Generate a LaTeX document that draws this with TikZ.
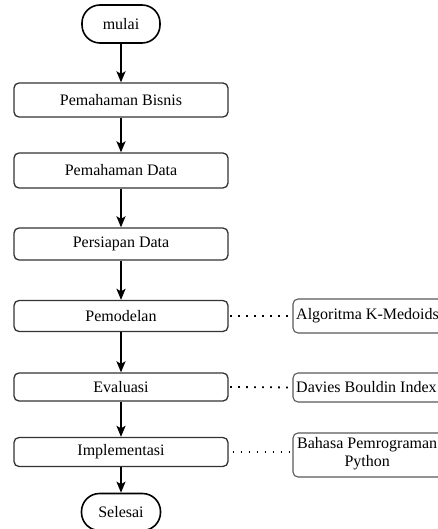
\documentclass[tikz,border=0pt]{standalone}
\usepackage{fontspec}
\setmainfont{Liberation Serif}
\usetikzlibrary{arrows.meta}
\begin{document}
\begin{tikzpicture}[x=1pt,y=-1pt,
  txt/.style={font=\fontsize{16}{18}\selectfont},
  stepbox/.style={txt,draw=black!80,line width=1.3pt,rounded corners=5pt,minimum width=214pt,inner sep=0pt},
  termbox/.style={txt,draw=black,line width=1.6pt,rounded corners=18pt,inner sep=0pt},
  sidebox/.style={draw=black!65,line width=1.1pt,rounded corners=5pt,inner sep=0pt,minimum width=200pt},
  flow/.style={line width=1.8pt,-{Stealth[length=11pt,width=9pt,inset=2.5pt]}},
  link/.style={line width=1.8pt,dash pattern=on 1.8pt off 6.2pt}]
\useasboundingbox (0,0) rectangle (438,529);
% terminals
\node[termbox,minimum width=78pt,minimum height=38pt] (start) at (121,24) {mulai};
\node[termbox,minimum width=79pt,minimum height=37pt] (end) at (121,512) {Selesai};
% steps
\node[stepbox,minimum height=34pt] (b1) at (121,100) {Pemahaman Bisnis};
\node[stepbox,minimum height=35pt] (b2) at (121,170.5) {Pemahaman Data};
\node[stepbox,minimum height=32pt] (b3) at (121,244) {Persiapan Data};
\node[stepbox,minimum height=31pt] (b4) at (121,316) {Pemodelan};
\node[stepbox,minimum height=28pt] (b5) at (121,387) {Evaluasi};
\node[stepbox,minimum height=29pt] (b6) at (121,452) {Implementasi};
% side boxes
\node[sidebox,minimum height=34pt] (s1) at (393,316) {};
\node[sidebox,minimum height=29pt] (s2) at (393,387.5) {};
\node[sidebox,minimum height=44pt] (s3) at (393,455) {};
\node[txt,anchor=west,inner sep=0pt] (t1) at (296,316) {Algoritma K-Medoids};
\node[txt,anchor=west,inner sep=0pt] (t2) at (296,387.5) {Davies Bouldin Index};
\node[anchor=north west,inner sep=0pt,align=center,font=\fontsize{16}{18}\selectfont] (t3) at (297,437) {Bahasa Pemrograman\\Python};
% arrows
\draw[flow] (start) -- (b1);
\draw[flow] (b1) -- (b2);
\draw[flow] (b2) -- (b3);
\draw[flow] (b3) -- (b4);
\draw[flow] (b4) -- (b5);
\draw[flow] (b5) -- (b6);
\draw[flow] (b6) -- (end);
% dotted links
\draw[link] (b4.east) ++(1.5,0) -- (s1.west);
\draw[link] (b5.east) ++(1.5,0) -- (s2.west);
\draw[link] ([xshift=4pt]b6.east) -- ([yshift=3pt]s3.west);
\end{tikzpicture}
\end{document}
